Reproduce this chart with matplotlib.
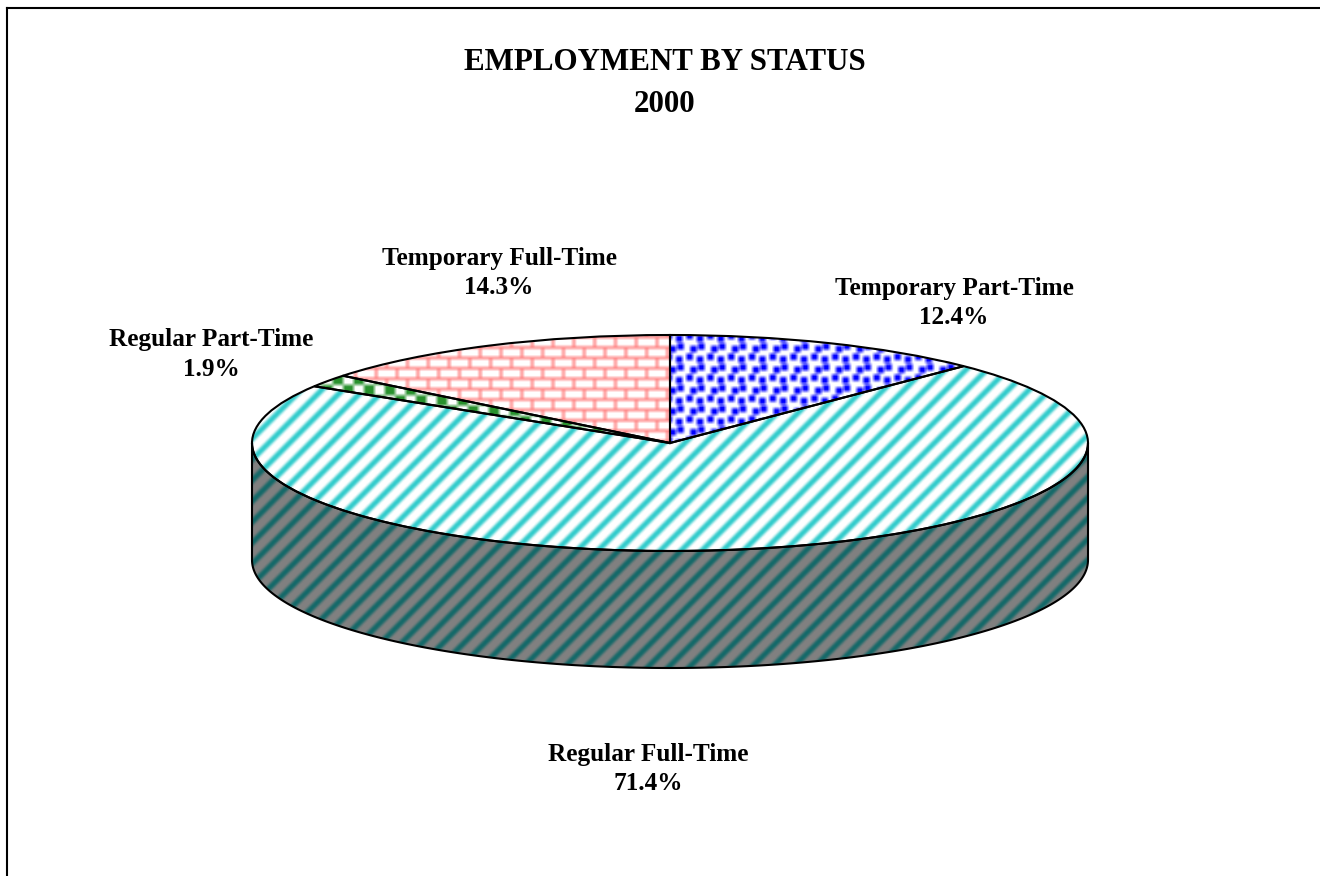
import matplotlib
matplotlib.use('Agg')
import matplotlib.pyplot as plt
import numpy as np
from matplotlib.lines import Line2D
from matplotlib.patches import Polygon

plt.rcParams['font.family'] = ['Liberation Serif', 'DejaVu Serif']

# data, clockwise from 12 o'clock
categories = ['Temporary Part-Time', 'Regular Full-Time', 'Regular Part-Time', 'Temporary Full-Time']
shares = [12.4, 71.4, 1.9, 14.3]
title_lines = ['EMPLOYMENT BY STATUS', '2000']

# layout, in picture pixels
W, H = 1320, 876
CX, CY = 670, 443
RX, RY = 418, 108
DEPTH = 117
label_xy = [(954, 301), (648, 768), (211, 353), (499, 271)]
TILE_SCALE = 1.3  # tiles are 16x16 cells, about 21 px on the picture


def soften(t):
    # the original bitmap fills look slightly blurred
    out = np.zeros_like(t)
    for dr in (-1, 0, 1):
        for dc in (-1, 0, 1):
            out += np.roll(np.roll(t, dr, axis=0), dc, axis=1)
    return out / 9


def bricks():
    t = np.zeros((16, 16))
    t[0:2, :] = t[8:10, :] = 1
    t[:8, 0:2] = 1
    t[8:, 8:10] = 1
    return soften(t)


def dots():
    t = np.zeros((16, 16))
    for r, c in [(0, 0), (10, 3), (8, 9), (2, 8)]:
        rr = (np.arange(0, 5) + r) % 16
        cc = (np.arange(0, 5) + c) % 16
        t[np.ix_(rr, cc)] = 1
    return soften(t)


def checks():
    r, c = np.indices((16, 16))
    return soften(((r // 8 + c // 8) % 2 == 0).astype(float))


def stripes():
    r, c = np.indices((16, 16))
    return soften(((r + c) % 16 < 6).astype(float))


def to_data_x(px):
    return (px - CX) / RX


def to_data_y(py):
    return (CY - py) / RY


def fill_pattern(ax, tile, fg, bg, clip, dx=0, dy=0):
    # repeat the small bitmap over the whole picture, show it only inside clip
    size = tile.shape[0] * TILE_SCALE
    nx = int(np.ceil(W / size)) + 1
    ny = int(np.ceil(H / size)) + 1
    mask = np.tile(tile, (ny, nx))[..., None]
    rgb = (np.array(bg) + mask * (np.array(fg) - np.array(bg))).astype(np.uint8)
    extent = (to_data_x(dx - size), to_data_x(dx - size + nx * size),
              to_data_y(dy - size + ny * size), to_data_y(dy - size))
    im = ax.imshow(rgb, extent=extent, origin='upper', aspect='auto',
                   interpolation='bilinear', zorder=2)
    im.set_clip_path(clip)


fig = plt.figure(figsize=(W / 100, H / 100), dpi=100, facecolor='white')
ax = fig.add_axes([0, 0, 1, 1])

wedges, _ = ax.pie(shares, startangle=90, counterclock=False, radius=1,
                   wedgeprops={'facecolor': 'none', 'edgecolor': 'black', 'linewidth': 1.5, 'zorder': 3})

# rim of the disc
theta = np.radians(np.linspace(180, 360, 200))
top = np.column_stack([np.cos(theta), np.sin(theta)])
bottom = top[::-1] - [0, DEPTH / RY]
side = Polygon(np.vstack([top, bottom]), closed=True, facecolor='none',
               edgecolor='black', linewidth=1.5, zorder=3)
ax.add_patch(side)

white = (255, 255, 255)
fill_pattern(ax, dots(), (0, 0, 255), white, wedges[0])
fill_pattern(ax, stripes(), (51, 204, 204), white, wedges[1])
fill_pattern(ax, checks(), (40, 145, 45), white, wedges[2])
fill_pattern(ax, bricks(), (255, 130, 130), white, wedges[3], dx=11, dy=3)
fill_pattern(ax, stripes(), (20, 105, 105), (128, 128, 128), side)

ax.set_aspect('auto')
ax.set_xlim(to_data_x(0), to_data_x(W))
ax.set_ylim(to_data_y(H), to_data_y(0))
ax.axis('off')

# frame, only top and left are inside the picture
fig.add_artist(Line2D([7 / W, 7 / W], [0, 1 - 8 / H], color='black', linewidth=1.5))
fig.add_artist(Line2D([7 / W, 1], [1 - 8 / H, 1 - 8 / H], color='black', linewidth=1.5))

fig.text(665 / W, 1 - 63 / H, title_lines[0], ha='center', va='center', fontsize=22.3, fontweight='bold')
fig.text(665 / W, 1 - 104 / H, title_lines[1], ha='center', va='center', fontsize=22.3, fontweight='bold')

for name, share, (x, y) in zip(categories, shares, label_xy):
    fig.text(x / W, 1 - (y - 13) / H, name, ha='center', va='center', fontsize=18.2, fontweight='bold')
    fig.text(x / W, 1 - (y + 16) / H, f'{share}%', ha='center', va='center', fontsize=18.2, fontweight='bold')

fig.savefig('out.png', dpi=100)
